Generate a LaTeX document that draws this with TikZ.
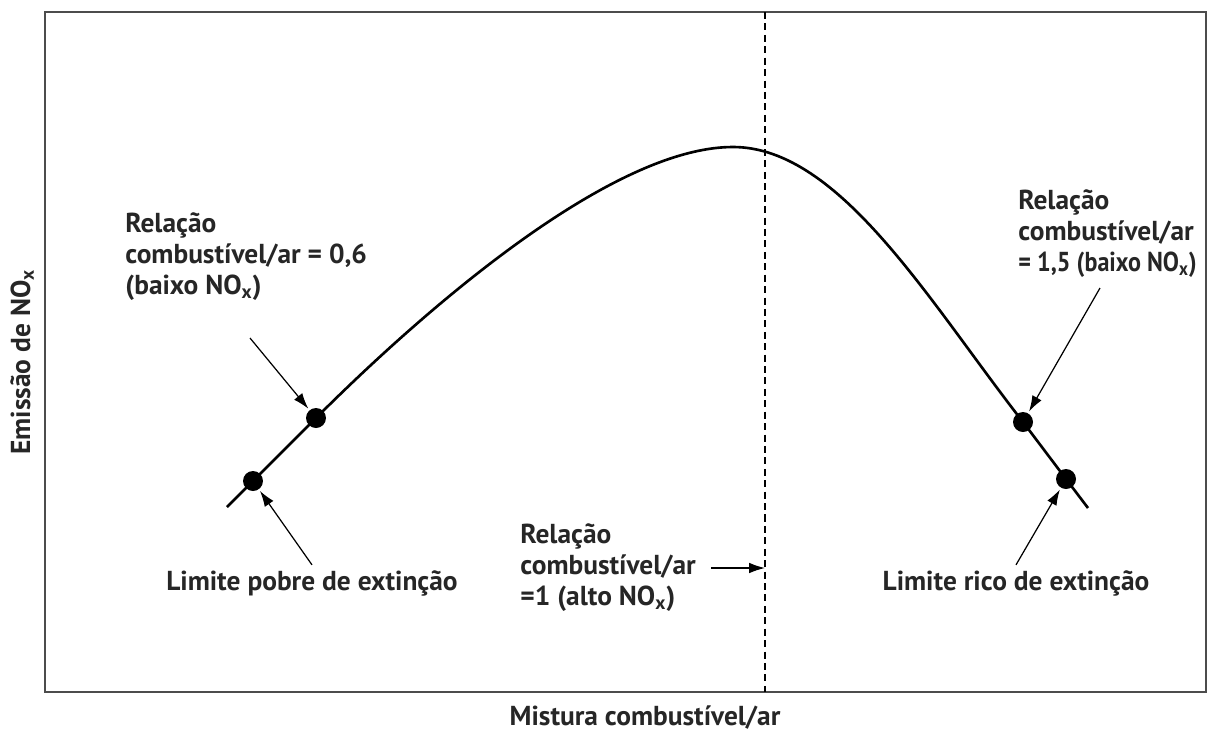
\documentclass[tikz,border=0pt]{standalone}
\usepackage{fontspec}
\setmainfont{PT Sans}
\usepackage{graphicx}
\usepackage{tikz}
\usetikzlibrary{arrows.meta}

\tikzset{
  dot/.style={circle,fill,inner sep=0pt,minimum size=0.4cm},
  lbl/.style={font=\fontsize{15.6}{17.6}\selectfont\bfseries,text=black!85,inner sep=0pt},
  arr/.style={-{Latex[length=9pt,width=6pt]},line width=0.7pt,shorten >=1pt}
}

\begin{document}
\begin{tikzpicture}[x=0.02cm,y=-0.02cm]
\useasboundingbox (0,0) rectangle (1208,731);
% frame and reference line
\draw [line width=1.6pt,black!70] (45,12) rectangle (1206,692);
\coordinate (vtop) at (765,12);
\coordinate (vbot) at (765,692);
\draw [dashed,line width=0.9pt,dash pattern=on 4pt off 2.5pt] (vtop) -- (vbot);
% points on the curve
\node [dot] (p1) at (253,481) {};
\node [dot] (p2) at (316,418) {};
\node [dot] (p3) at (1023,422) {};
\node [dot] (p4) at (1066,479) {};
\coordinate (c0) at (227,507);
\coordinate (top) at (733,147);
\coordinate (c1) at (1088,508);
\draw [line width=1.5pt] (c0) -- (p1.center) -- (p2.center)
  .. controls (422,312) and (610,147) .. (top)
  .. controls (840,147) and (930,303) .. (p3.center) -- (p4.center) -- (c1);
% labels
\node [lbl,anchor=west,align=left] (lblL) at (125,257)
  {Relação\\combustível/ar = 0,6\\(baixo NO\textsubscript{x})};
\node [lbl,anchor=west,align=left] (lblR) at (1018,234)
  {Relação\\combustível/ar\\\scalebox{0.88}[1]{= 1,5 (baixo NO\textsubscript{x})}};
\node [lbl,anchor=west,align=left] (lblM) at (520,568)
  {Relação\\combustível/ar\\=1 (alto NO\textsubscript{x})};
\node [lbl] (pobre) at (312,583) {Limite pobre de extinção};
\node [lbl] (rico) at (1016,583) {Limite rico de extinção};
\node [lbl] (xlab) at (645,718) {Mistura combustível/ar};
\node [lbl,rotate=90] (ylab) at (22,362) {Emissão de NO\textsubscript{x}};
% arrows
\coordinate (tL) at (250,338);
\coordinate (tR) at (1100,288);
\draw [arr] (tL) -- (p2);
\draw [arr] (tR) -- (p3);
\draw [arr] ([yshift=0.1cm]pobre.north) -- (p1);
\draw [arr] ([yshift=0.1cm]rico.north) -- (p4);
\draw [arr,shorten >=0pt] ([xshift=0.3cm]lblM.east) -- (lblM.east -| vtop);
\end{tikzpicture}
\end{document}
